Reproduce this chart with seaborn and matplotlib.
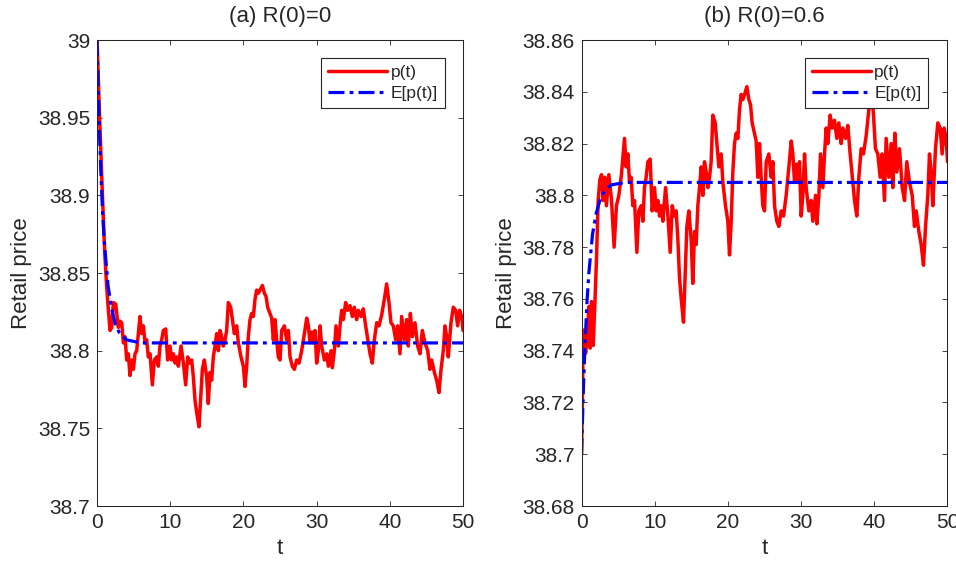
import matplotlib
matplotlib.use("Agg")
import matplotlib.pyplot as plt
import seaborn as sns
from matplotlib.ticker import FuncFormatter

# start of the simulated path, panel (a) R(0)=0
t_head_a = [0.0, 0.36, 0.73, 1.05, 1.32, 1.55, 1.78, 2.0, 2.23, 2.55, 2.91,
            3.14, 3.37, 3.6, 3.83, 4.05, 4.28, 4.5, 4.74, 4.96, 5.19, 5.42]
p_head_a = [39.000, 38.949, 38.901, 38.863, 38.841, 38.826, 38.813, 38.815,
            38.831, 38.830, 38.815, 38.819, 38.818, 38.805, 38.809, 38.794,
            38.798, 38.784, 38.794, 38.788, 38.798, 38.800]

# start of the simulated path, panel (b) R(0)=0.6
t_head_b = [0.0, 0.14, 0.23, 0.4, 0.55, 0.82, 1.0, 1.18, 1.36, 1.6, 1.82,
            2.05, 2.27, 2.5, 2.73, 2.95, 3.18, 3.4, 3.73, 4.1, 4.45, 4.77,
            5.1, 5.45]
p_head_b = [38.700, 38.725, 38.748, 38.745, 38.739, 38.747, 38.757, 38.741,
            38.759, 38.742, 38.758, 38.776, 38.798, 38.806, 38.808, 38.798,
            38.807, 38.796, 38.808, 38.798, 38.780, 38.796, 38.800, 38.808]

# after t~6 both panels show the same path
t_tail = [5.87, 6.1, 6.33, 6.56, 6.78, 7.01, 7.24, 7.56, 7.83, 8.15,
          8.38, 8.6, 8.83, 9.06, 9.38, 9.65, 9.97, 10.2, 10.43, 10.66,
          10.88, 11.11, 11.48, 11.8, 12.11, 12.39, 12.7, 12.93, 13.16, 13.39,
          13.62, 13.93, 14.21, 14.39, 14.66, 14.98, 15.2, 15.44, 15.66, 15.89,
          16.12, 16.35, 16.58, 16.8, 17.03, 17.26, 17.49, 17.71, 17.94, 18.26,
          18.49, 18.76, 19.08, 19.31, 19.67, 19.99, 20.22, 20.45, 20.67, 20.9,
          21.13, 21.36, 21.58, 21.81, 22.04, 22.27, 22.59, 22.86, 23.09, 23.31,
          23.63, 23.86, 24.09, 24.32, 24.54, 24.77, 25.0, 25.23, 25.59, 25.91,
          26.14, 26.37, 26.68, 26.96, 27.28, 27.6, 27.96, 28.33, 28.65, 28.87,
          29.1, 29.33, 29.55, 29.78, 30.01, 30.24, 30.47, 30.69, 31.06, 31.38,
          31.6, 31.97, 32.15, 32.43, 32.65, 32.97, 33.2, 33.42, 33.65, 33.97,
          34.24, 34.56, 34.88, 35.15, 35.47, 35.7, 36.07, 36.38, 36.7, 37.07,
          37.3, 37.61, 37.89, 38.21, 38.52, 38.89, 39.25, 39.57, 39.89, 40.16,
          40.48, 40.8, 41.07, 41.39, 41.62, 41.99, 42.3, 42.53, 42.81, 43.08,
          43.44, 43.81, 44.13, 44.44, 44.81, 45.18, 45.49, 45.72, 46.09, 46.4,
          46.72, 47.0, 47.31, 47.54, 47.77, 47.99, 48.36, 48.68, 49.0, 49.27,
          49.54, 49.82, 50.0]
p_tail = [38.822, 38.811, 38.816, 38.805, 38.807, 38.796, 38.798, 38.778, 38.794, 38.796,
          38.790, 38.803, 38.807, 38.813, 38.814, 38.794, 38.803, 38.794, 38.798, 38.792,
          38.796, 38.790, 38.803, 38.792, 38.778, 38.796, 38.792, 38.794, 38.783, 38.768,
          38.760, 38.751, 38.773, 38.788, 38.794, 38.783, 38.766, 38.786, 38.781, 38.796,
          38.803, 38.811, 38.800, 38.813, 38.809, 38.803, 38.807, 38.813, 38.831, 38.828,
          38.820, 38.811, 38.816, 38.805, 38.796, 38.790, 38.777, 38.790, 38.809, 38.820,
          38.824, 38.822, 38.833, 38.839, 38.837, 38.839, 38.842, 38.837, 38.835, 38.828,
          38.824, 38.821, 38.807, 38.820, 38.807, 38.796, 38.794, 38.813, 38.816, 38.807,
          38.813, 38.796, 38.790, 38.788, 38.794, 38.792, 38.800, 38.811, 38.821, 38.816,
          38.805, 38.812, 38.805, 38.813, 38.792, 38.800, 38.816, 38.803, 38.794, 38.798,
          38.790, 38.800, 38.789, 38.800, 38.816, 38.803, 38.816, 38.826, 38.820, 38.831,
          38.826, 38.829, 38.822, 38.828, 38.820, 38.826, 38.822, 38.827, 38.816, 38.805,
          38.798, 38.792, 38.807, 38.818, 38.816, 38.823, 38.833, 38.843, 38.831, 38.818,
          38.816, 38.807, 38.816, 38.798, 38.822, 38.807, 38.820, 38.803, 38.824, 38.809,
          38.818, 38.803, 38.798, 38.813, 38.805, 38.800, 38.788, 38.794, 38.786, 38.781,
          38.773, 38.788, 38.800, 38.816, 38.809, 38.796, 38.818, 38.828, 38.826, 38.816,
          38.826, 38.822, 38.813]

# expected price E[p(t)]
t_mean = [0.0, 0.25, 0.5, 0.75, 1.0, 1.5, 2.0, 2.5, 3.0, 4.0, 5.0, 6.0, 50.0]
e_a = [39.000, 38.953, 38.918, 38.890, 38.870, 38.842, 38.827, 38.817,
       38.812, 38.807, 38.806, 38.805, 38.805]
e_b = [38.700, 38.725, 38.744, 38.759, 38.770, 38.785, 38.793, 38.798,
       38.801, 38.804, 38.8045, 38.805, 38.805]

titles = ["(a) R(0)=0", "(b) R(0)=0.6"]
x_ticks = [0, 10, 20, 30, 40, 50]
y_ticks_a = [38.7, 38.75, 38.8, 38.85, 38.9, 38.95, 39.0]
y_ticks_b = [38.68, 38.7, 38.72, 38.74, 38.76, 38.78, 38.8, 38.82, 38.84, 38.86]

sns.set_theme(style="ticks")
plt.rcParams["font.family"] = ["Liberation Sans", "DejaVu Sans"]

ink = "#262626"
fig = plt.figure(figsize=(9.56, 5.63), dpi=100)
ax_a = fig.add_axes([0.1015, 0.1012, 0.3828, 0.8277])
ax_b = fig.add_axes([0.6083, 0.1012, 0.3828, 0.8277])

panels = [
    (ax_a, t_head_a + t_tail, p_head_a + p_tail, e_a, titles[0], y_ticks_a, 0.951),
    (ax_b, t_head_b + t_tail, p_head_b + p_tail, e_b, titles[1], y_ticks_b, 0.948),
]

for ax, tt, pp, ee, title, yt, legx in panels:
    sns.lineplot(x=tt, y=pp, ax=ax, color="red", linewidth=2.5,
                 label="p(t)", estimator=None, sort=False)
    sns.lineplot(x=t_mean, y=ee, ax=ax, color="blue", linewidth=2.3,
                 linestyle=(0, (5, 1.6, 1.2, 1.6)), label="E[p(t)]",
                 estimator=None, sort=False)
    ax.set_xlim(0, 50)
    ax.set_ylim(yt[0], yt[-1])
    ax.set_xticks(x_ticks)
    ax.set_yticks(yt)
    ax.yaxis.set_major_formatter(FuncFormatter(lambda v, _: f"{v:g}"))
    ax.tick_params(direction="in", length=3.5, width=0.6, top=True, right=True,
                   labelsize=15, colors=ink, pad=5)
    for s in ax.spines.values():
        s.set_visible(True)
        s.set_color(ink)
        s.set_linewidth(0.75)
    ax.set_title(title, fontsize=16, color=ink, pad=13)
    ax.set_xlabel("t", fontsize=16, color=ink, labelpad=4)
    ax.set_ylabel("Retail price", fontsize=16, color=ink, labelpad=4)
    leg = ax.legend(loc="upper right", bbox_to_anchor=(legx, 0.961),
                    borderaxespad=0, frameon=True, fancybox=False,
                    edgecolor=ink, fontsize=12.5, handlelength=3.4,
                    handletextpad=0.2, labelspacing=0.3, borderpad=0.4)
    leg.get_frame().set_linewidth(0.8)
    leg.get_frame().set_alpha(1)

fig.savefig("out.png", dpi=100)
